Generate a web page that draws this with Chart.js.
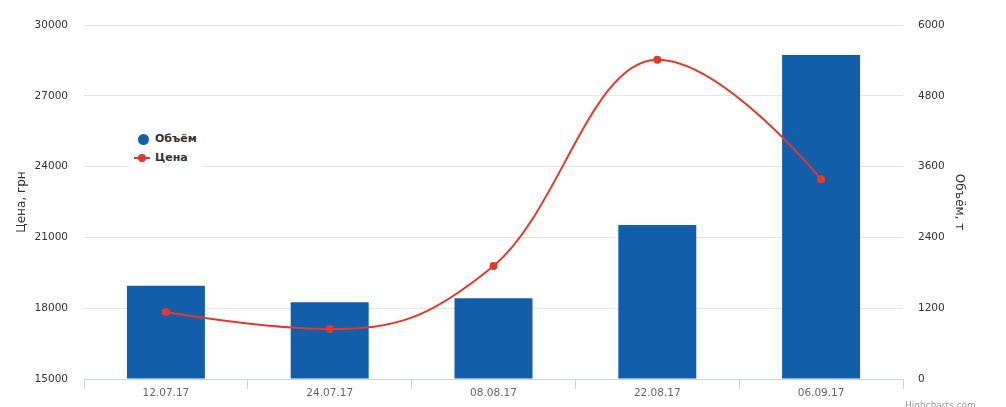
<!DOCTYPE html>
<html><head><meta charset="utf-8">
<script src="https://cdn.jsdelivr.net/npm/chart.js@4/dist/chart.umd.min.js"></script>
<style>
body{margin:0;background:#fff;}
#wrap{position:relative;width:1006px;height:407px;overflow:hidden;}
#legend{position:absolute;left:127px;top:128px;width:75px;height:42px;background:#fff;font:bold 11px "DejaVu Sans";color:#333;}
.li{position:absolute;left:0;width:75px;height:16px;line-height:16px;white-space:nowrap;}
.li .tx{position:absolute;left:28px;top:0;}
.dot{position:absolute;border-radius:50%;}
.ln{position:absolute;height:2px;}
#credits{position:absolute;left:905px;top:400px;font:9px "DejaVu Sans";color:#999;white-space:nowrap;}
</style></head>
<body>
<div id="wrap">
<canvas id="c" width="1006" height="407"></canvas>
<div id="legend"></div>
<div id="credits">Highcharts.com</div>
</div>
<script>
const categories = ['12.07.17','24.07.17','08.08.17','22.08.17','06.09.17'];
const volume = [1580, 1300, 1370, 2610, 5490];
const price = [17840, 17120, 19790, 28530, 23460];
const priceTicks = {min:15000, max:30000, step:3000};
const volumeTicks = {min:0, max:6000, step:1200};
const volumeLabel = 'Объём';
const priceLabel = 'Цена';
const priceTitle = 'Цена, грн';
const volumeTitle = 'Объём, т';

const BLUE = '#135eab';
const RED = '#e3392d';
const FONT = 'DejaVu Sans';

// Highcharts-style spline control points (smoothing 1.5)
const hcSpline = {
  id: 'hcSpline',
  beforeDatasetDraw(chart, args) {
    const meta = chart.getDatasetMeta(args.index);
    if (meta.type !== 'line') return;
    const line = meta.dataset;
    line.updateControlPoints(chart.chartArea, 'x');
    const pts = meta.data;
    const sm = 1.5, den = sm + 1;
    for (let i = 0; i < pts.length; i++) {
      const p = pts[i];
      p.cp1x = p.x; p.cp1y = p.y; p.cp2x = p.x; p.cp2y = p.y;
    }
    for (let i = 1; i < pts.length - 1; i++) {
      const p = pts[i], a = pts[i-1], b = pts[i+1];
      const x = p.x, y = p.y;
      let lx = (sm*x + a.x)/den, ly = (sm*y + a.y)/den;
      let rx = (sm*x + b.x)/den, ry = (sm*y + b.y)/den;
      let corr = 0;
      if (rx !== lx) corr = ((ry - ly)*(rx - x))/(rx - lx) + y - ry;
      ly += corr; ry += corr;
      if (ly > a.y && ly > y) { ly = Math.max(a.y, y); ry = 2*y - ly; }
      else if (ly < a.y && ly < y) { ly = Math.min(a.y, y); ry = 2*y - ly; }
      if (ry > b.y && ry > y) { ry = Math.max(b.y, y); ly = 2*y - ry; }
      else if (ry < b.y && ry < y) { ry = Math.min(b.y, y); ly = 2*y - ry; }
      p.cp1x = lx; p.cp1y = ly; p.cp2x = rx; p.cp2y = ry;
    }
  }
};

const plain = v => String(v);

const chart = new Chart(document.getElementById('c'), {
  type: 'bar',
  data: {
    labels: categories,
    datasets: [
      {type:'line', label: priceLabel, data: price, yAxisID:'yPrice', order:0,
       borderColor: RED, backgroundColor: RED, borderWidth: 2,
       pointRadius: 4, pointBorderWidth: 0, pointBackgroundColor: RED,
       tension: 0.4, fill:false},
      {type:'bar', label: volumeLabel, data: volume, yAxisID:'yVol', order:1,
       backgroundColor: BLUE, borderWidth: 0,
       barPercentage: 0.476, categoryPercentage: 1}
    ]
  },
  plugins:[hcSpline],
  options: {
    responsive:false, animation:false, devicePixelRatio:1,
    layout:{padding:{top:25,left:0,right:0,bottom:0}},
    plugins:{legend:{display:false}, tooltip:{enabled:false}},
    scales:{
      x:{
        offset:true,
        grid:{offset:true, drawOnChartArea:false, drawTicks:true, tickLength:10, color:'#ccd6eb'},
        border:{color:'#ccd6eb'},
        ticks:{color:'#666', font:{family:FONT, size:10.5}, padding:-2, maxRotation:0},
        afterFit(s){ s.height = 28; }
      },
      yPrice:{
        position:'left', min:priceTicks.min, max:priceTicks.max,
        ticks:{stepSize:priceTicks.step, color:'#333', font:{family:FONT, size:10.5}, padding:16, callback: plain},
        grid:{color:'#e6e6e6', drawTicks:false},
        border:{display:false},
        title:{display:true, text:priceTitle, color:'#333', font:{family:FONT, size:12}, padding:{top:14.3, bottom:0}},
        afterFit(s){ s.width = 84; }
      },
      yVol:{
        position:'right', min:volumeTicks.min, max:volumeTicks.max,
        ticks:{stepSize:volumeTicks.step, color:'#333', font:{family:FONT, size:10.5}, padding:15, callback: plain},
        grid:{drawOnChartArea:false, drawTicks:false},
        border:{display:false},
        title:{display:true, text:volumeTitle, color:'#333', font:{family:FONT, size:12}, padding:{top:39.3, bottom:0}},
        afterFit(s){ s.width = 103; }
      }
    }
  }
});

// HTML legend built from datasets (bar first, then line)
const legend = document.getElementById('legend');
const items = [chart.data.datasets[1], chart.data.datasets[0]];
items.forEach((ds, i) => {
  const d = document.createElement('div');
  d.className = 'li';
  d.style.top = (3 + i*19) + 'px';
  if (ds.type === 'bar') {
    const dot = document.createElement('div');
    dot.className = 'dot';
    dot.style.cssText += 'left:10.5px;top:2.5px;width:11px;height:11px;background:' + ds.backgroundColor;
    d.appendChild(dot);
  } else {
    const ln = document.createElement('div');
    ln.className = 'ln';
    ln.style.cssText += 'left:7px;top:7px;width:16px;background:' + ds.borderColor;
    d.appendChild(ln);
    const dot = document.createElement('div');
    dot.className = 'dot';
    dot.style.cssText += 'left:11px;top:4px;width:8px;height:8px;background:' + ds.borderColor;
    d.appendChild(dot);
  }
  const t = document.createElement('span');
  t.className = 'tx'; t.textContent = ds.label;
  d.appendChild(t);
  legend.appendChild(d);
});
</script>
</body></html>
